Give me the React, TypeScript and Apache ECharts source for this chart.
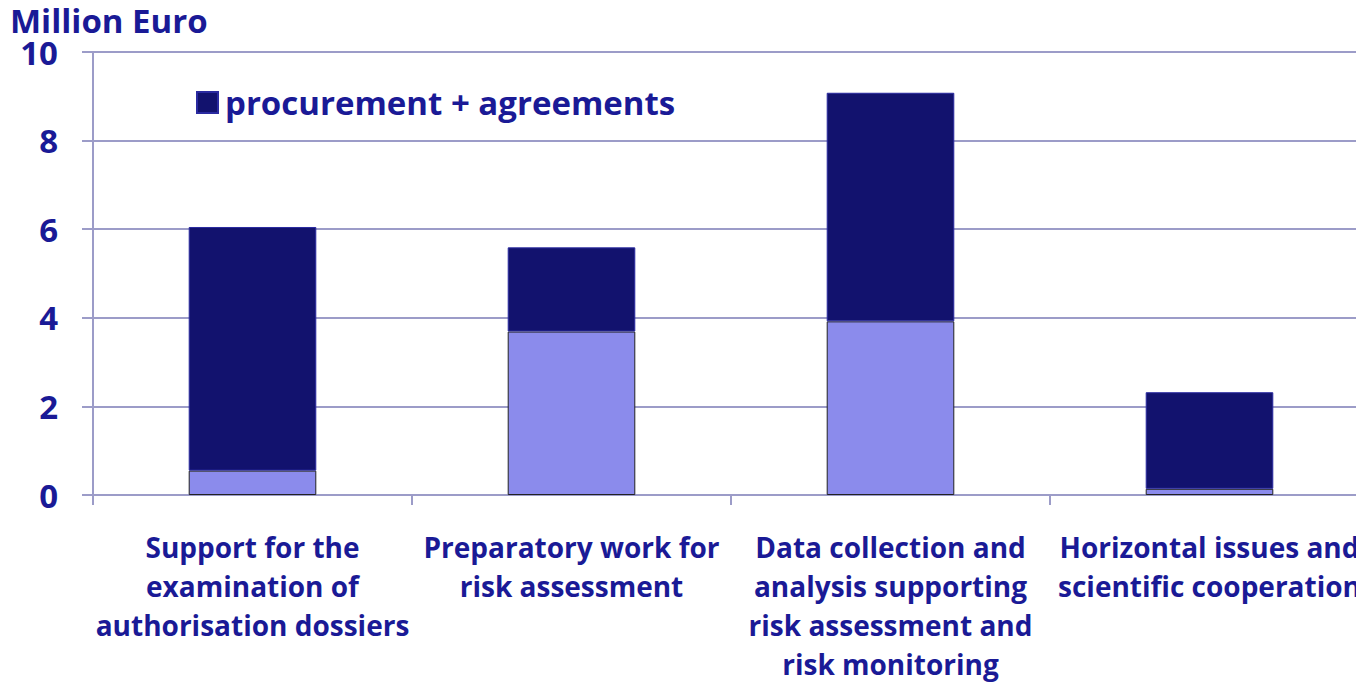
import React, { useEffect, useRef } from "react";
import * as echarts from "echarts";

const categories = [
  "Support for the\nexamination of\nauthorisation dossiers",
  "Preparatory work for\nrisk assessment",
  "Data collection and\nanalysis supporting\nrisk assessment and\nrisk monitoring",
  "Horizontal issues and\nscientific cooperation",
];
const otherValues = [0.55, 3.69, 3.92, 0.14];
const procurementValues = [5.5, 1.9, 5.16, 2.18];
const yTicks = { min: 0, max: 10, interval: 2 };

const FONT = "'Open Sans', sans-serif";
const TEXT = "#1a1a96";
const GRID = "#9c9cc8";

export default function App() {
  const ref = useRef<HTMLDivElement>(null);
  useEffect(() => {
    const chart = echarts.init(ref.current!, null, { renderer: "svg" });
    chart.setOption({
      animation: false,
      textStyle: { fontFamily: FONT },
      title: {
        text: "Million Euro",
        left: 10,
        top: 4,
        padding: 0,
        textStyle: { fontFamily: FONT, fontWeight: "bold", fontSize: 33, color: TEXT },
      },
      legend: {
        data: [{ name: "procurement + agreements", icon: "rect" }],
        left: 196,
        top: 86,
        padding: 0,
        itemWidth: 21,
        itemHeight: 21,
        itemGap: 10,
        textStyle: { fontFamily: FONT, fontWeight: "bold", fontSize: 33, color: TEXT, padding: [0, 0, 0, 2] },
      },
      grid: { left: 93, right: 0, top: 52, bottom: 178 },
      xAxis: {
        type: "category",
        data: categories,
        axisLine: { lineStyle: { color: GRID, width: 2 } },
        axisTick: { show: true, length: 10, lineStyle: { color: GRID, width: 2 } },
        axisLabel: {
          interval: 0,
          margin: 32,
          fontFamily: FONT,
          fontWeight: "bold",
          fontSize: 28,
          lineHeight: 39,
          color: TEXT,
          verticalAlign: "top",
        },
      },
      yAxis: {
        type: "value",
        min: yTicks.min,
        max: yTicks.max,
        interval: yTicks.interval,
        axisLine: { show: true, lineStyle: { color: GRID, width: 2 } },
        axisTick: { show: true, length: 11, lineStyle: { color: GRID, width: 2 } },
        splitLine: { show: true, lineStyle: { color: GRID, width: 2 } },
        axisLabel: {
          margin: 35,
          fontFamily: FONT,
          fontWeight: "bold",
          fontSize: 33,
          color: TEXT,
        },
      },
      series: [
        {
          name: "other",
          type: "bar",
          stack: "total",
          data: otherValues,
          barWidth: "40%",
          itemStyle: { color: "#8b8bec", borderColor: "#222", borderWidth: 1 },
        },
        {
          name: "procurement + agreements",
          type: "bar",
          stack: "total",
          data: procurementValues,
          barWidth: "40%",
          itemStyle: { color: "#12126e", borderColor: "#2a2aa0", borderWidth: 1 },
        },
      ],
    });
    return () => chart.dispose();
  }, []);
  return (
    <div
      style={{ position: "fixed", left: 0, top: 0, width: 1356, height: 683, overflow: "hidden", background: "#fff" }}
    >
      <div ref={ref} style={{ width: 1369, height: 683 }} />
    </div>
  );
}
